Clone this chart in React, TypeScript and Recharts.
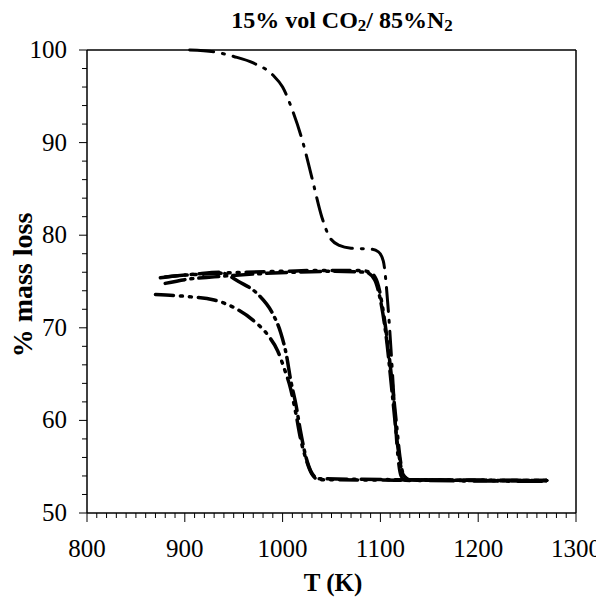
import { LineChart, Line, XAxis, YAxis, ReferenceLine } from "recharts";

// temperature (K) and % mass for each cycle
const cycle1T = [905, 930, 950, 970, 990, 1000, 1010, 1020, 1030, 1040, 1048, 1058, 1070, 1090, 1098, 1103, 1108, 1113, 1117, 1121, 1126, 1270];
const cycle1Mass = [100, 99.8, 99.3, 98.6, 97.3, 96.0, 93.5, 90.3, 86.2, 82.0, 79.8, 78.9, 78.6, 78.5, 78.2, 77.2, 72, 64, 57, 54, 53.5, 53.4];

const cycle2T = [875, 890, 920, 960, 1000, 1040, 1080, 1092, 1098, 1104, 1110, 1116, 1120, 1124, 1130, 1270];
const cycle2Mass = [75.4, 75.6, 75.8, 76.0, 76.1, 76.2, 76.2, 75.8, 74.5, 71, 66, 60, 56, 54, 53.6, 53.5];

const cycle3T = [880, 900, 930, 970, 1010, 1050, 1085, 1094, 1100, 1106, 1112, 1118, 1123, 1130, 1270];
const cycle3Mass = [74.8, 75.2, 75.5, 75.8, 76.0, 76.1, 76.0, 75.2, 73, 69, 63, 57, 54.2, 53.6, 53.5];

const cycle4T = [870, 900, 930, 950, 970, 985, 995, 1002, 1008, 1014, 1018, 1024, 1030, 1037, 1270];
const cycle4Mass = [73.6, 73.4, 73.0, 72.2, 70.8, 69.2, 67.5, 65.5, 63.5, 60.5, 58.2, 55.8, 54.2, 53.6, 53.5];

const cycle5T = [880, 910, 935, 955, 975, 990, 998, 1004, 1008, 1014, 1018, 1024, 1030, 1037, 1270];
const cycle5Mass = [75.5, 75.8, 76.0, 75.0, 73.6, 71.5, 69.5, 67, 64.5, 61.5, 59, 56, 54.3, 53.7, 53.5];

const xTicks: number[] = [];
for (let t = 800; t <= 1300; t += 10) xTicks.push(t);
const yTicks: number[] = [];
for (let v = 50; v <= 100; v += 2) yTicks.push(v);

const toData = (ts: number[], ms: number[]) => ts.map((T, i) => ({ T, mass: ms[i] }));

const series = [
  { key: "c1", data: toData(cycle1T, cycle1Mass), dash: "24 9 2 9", width: 3 },
  { key: "c2", data: toData(cycle2T, cycle2Mass), dash: "18 7 2 7 2 7", width: 3.5 },
  { key: "c3", data: toData(cycle3T, cycle3Mass), dash: "20 6 2 6", width: 3.5 },
  { key: "c4", data: toData(cycle4T, cycle4Mass), dash: "18 7 2 7 2 7", width: 3.5 },
  { key: "c5", data: toData(cycle5T, cycle5Mass), dash: "20 6 2 6", width: 3.5 },
];

const font = "'Liberation Serif', 'Times New Roman', serif";

const XTick = (props: any) => {
  const { x, y, payload } = props;
  const major = payload.value % 100 === 0;
  return (
    <g>
      <line x1={x} x2={x} y1={y} y2={y + (major ? 9 : 5)} stroke="#000" strokeWidth={1} />
      {major && (
        <text x={x} y={y + 44} textAnchor="middle" fontSize={25} fontFamily={font} fill="#000">
          {payload.value}
        </text>
      )}
    </g>
  );
};

const YTick = (props: any) => {
  const { x, y, payload } = props;
  const major = payload.value % 10 === 0;
  return (
    <g>
      <line x1={x - (major ? 8 : 5)} x2={x} y1={y} y2={y} stroke="#000" strokeWidth={1} />
      {major && (
        <text x={x - 20} y={y + 8} textAnchor="end" fontSize={25} fontFamily={font} fill="#000">
          {payload.value}
        </text>
      )}
    </g>
  );
};

const sub = { fontSize: 17, verticalAlign: "-3px" } as const;

export default function App() {
  return (
    <div style={{ position: "relative", width: 596, height: 590, background: "#fff", fontFamily: font }}>
      <div
        style={{
          position: "absolute",
          left: 0,
          width: 668,
          top: -1,
          textAlign: "center",
          fontSize: 24,
          fontWeight: "bold",
        }}
      >
        15% vol CO<span style={sub}>2</span>/ 85%N<span style={sub}>2</span>
      </div>
      <div
        style={{
          position: "absolute",
          left: 15,
          top: 277,
          transform: "translate(-50%, -50%) rotate(-90deg)",
          whiteSpace: "nowrap",
          fontSize: 28,
          fontWeight: "bold",
        }}
      >
        % mass loss
      </div>
      <div
        style={{
          position: "absolute",
          left: 0,
          width: 650,
          top: 561,
          textAlign: "center",
          fontSize: 25,
          fontWeight: "bold",
        }}
      >
        T (K)
      </div>
      <LineChart width={596} height={590} margin={{ top: 42, right: 28, bottom: 25, left: 9 }}>
        <XAxis
          type="number"
          dataKey="T"
          domain={[800, 1300]}
          ticks={xTicks}
          interval={0}
          height={60}
          tickSize={0}
          tickMargin={0}
          tickLine={false}
          tick={<XTick />}
          axisLine={{ stroke: "#000", strokeWidth: 1.5 }}
          allowDuplicatedCategory={false}
        />
        <YAxis
          type="number"
          domain={[50, 100]}
          ticks={yTicks}
          interval={0}
          width={70}
          tickSize={0}
          tickMargin={0}
          tickLine={false}
          tick={<YTick />}
          axisLine={{ stroke: "#000", strokeWidth: 1.5 }}
        />
        <ReferenceLine x={1300} stroke="#000" strokeWidth={1.5} />
        <ReferenceLine y={100} stroke="#000" strokeWidth={1.5} />
        {series.map((s) => (
          <Line
            key={s.key}
            data={s.data}
            dataKey="mass"
            type="monotone"
            stroke="#000"
            strokeWidth={s.width}
            strokeDasharray={s.dash}
            strokeLinecap="round"
            dot={false}
            isAnimationActive={false}
          />
        ))}
      </LineChart>
    </div>
  );
}
